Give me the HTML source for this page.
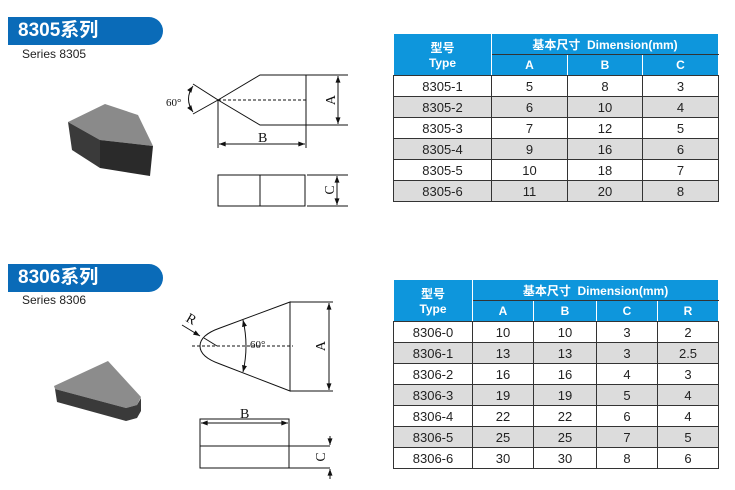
<!DOCTYPE html>
<html><head><meta charset="utf-8"><style>
body{margin:0;width:735px;height:490px;background:#fff;position:relative;overflow:hidden;font-family:"Liberation Sans","Noto Sans CJK SC",sans-serif}
.ban{position:absolute;left:8px;width:155px;height:28px;background:#0a6bb8;border-radius:0 14px 14px 0;color:#fff;font-weight:bold;font-size:19px;line-height:28px;padding-left:10px;box-sizing:border-box}
.ser{position:absolute;left:22px;font-size:12px;color:#222}
table{position:absolute;left:393px;border-collapse:collapse;table-layout:fixed;font-size:13px;text-align:center}
td,th{border:1px solid #333;padding:0;height:20px;color:#222;font-weight:normal}
th{background:#0e96dc;color:#fff;font-weight:bold;font-size:12px;border:1px solid #fff;border-bottom:1px solid #333}
tr.g td{background:#dcdcdc}
</style></head><body>
<div class="ban" style="top:17px">8305系列</div>
<div class="ser" style="top:47px">Series 8305</div>
<div class="ban" style="top:264px">8306系列</div>
<div class="ser" style="top:293px">Series 8306</div>

<table style="top:33px;width:325px">
<colgroup><col style="width:98px"><col style="width:76px"><col style="width:75px"><col style="width:76px"></colgroup>
<tr><th rowspan="2" style="height:40px">型号<br>Type</th><th colspan="3">基本尺寸 &nbsp;Dimension(mm)</th></tr>
<tr><th>A</th><th>B</th><th>C</th></tr>
<tr><td>8305-1</td><td>5</td><td>8</td><td>3</td></tr>
<tr class="g"><td>8305-2</td><td>6</td><td>10</td><td>4</td></tr>
<tr><td>8305-3</td><td>7</td><td>12</td><td>5</td></tr>
<tr class="g"><td>8305-4</td><td>9</td><td>16</td><td>6</td></tr>
<tr><td>8305-5</td><td>10</td><td>18</td><td>7</td></tr>
<tr class="g"><td>8305-6</td><td>11</td><td>20</td><td>8</td></tr>
</table>

<table style="top:279px;width:325px">
<colgroup><col style="width:79px"><col style="width:61px"><col style="width:63px"><col style="width:61px"><col style="width:61px"></colgroup>
<tr><th rowspan="2" style="height:40px">型号<br>Type</th><th colspan="4">基本尺寸 &nbsp;Dimension(mm)</th></tr>
<tr><th>A</th><th>B</th><th>C</th><th>R</th></tr>
<tr><td>8306-0</td><td>10</td><td>10</td><td>3</td><td>2</td></tr>
<tr class="g"><td>8306-1</td><td>13</td><td>13</td><td>3</td><td>2.5</td></tr>
<tr><td>8306-2</td><td>16</td><td>16</td><td>4</td><td>3</td></tr>
<tr class="g"><td>8306-3</td><td>19</td><td>19</td><td>5</td><td>4</td></tr>
<tr><td>8306-4</td><td>22</td><td>22</td><td>6</td><td>4</td></tr>
<tr class="g"><td>8306-5</td><td>25</td><td>25</td><td>7</td><td>5</td></tr>
<tr><td>8306-6</td><td>30</td><td>30</td><td>8</td><td>6</td></tr>
</table>

<svg width="735" height="490" style="position:absolute;left:0;top:0" font-family="Liberation Serif,serif" fill="none" stroke="#111" stroke-width="1">
<defs><marker id="a" viewBox="0 0 8 6" refX="8" refY="3" markerWidth="7" markerHeight="5" orient="auto-start-reverse"><path d="M0,0L8,3L0,6z" fill="#111" stroke="none"/></marker></defs>
<polygon points="68,122 105,104 138,115 153,146 100,140" fill="#8a8a8a" stroke="none"/>
<polygon points="68,122 100,140 100,168 72,150" fill="#3a3a3a" stroke="none"/>
<polygon points="100,140 153,146 150,176 100,168" fill="#2a2a2a" stroke="none"/>
<polyline points="193,84 218,100 193,114"/>
<polyline points="218,100 260,75 306,75 306,125 260,125 218,100"/>
<line x1="218" y1="100" x2="306" y2="100" stroke-dasharray="3,2"/>
<line x1="306" y1="75" x2="348" y2="75"/><line x1="306" y1="125" x2="348" y2="125"/>
<line x1="338" y1="76" x2="338" y2="124" marker-start="url(#a)" marker-end="url(#a)"/>
<path d="M193,86 Q184,99 193,112" marker-start="url(#a)" marker-end="url(#a)"/>
<line x1="218" y1="100" x2="218" y2="148"/><line x1="306" y1="125" x2="306" y2="148"/>
<line x1="219" y1="144" x2="305" y2="144" marker-start="url(#a)" marker-end="url(#a)"/>
<rect x="218" y="175" width="87" height="31"/><line x1="260" y1="175" x2="260" y2="206"/>
<line x1="307" y1="175" x2="348" y2="175"/><line x1="307" y1="206" x2="348" y2="206"/>
<line x1="337" y1="176" x2="337" y2="205" marker-start="url(#a)" marker-end="url(#a)"/>
<g fill="#111" stroke="none" font-size="14">
<text x="166" y="106" font-size="11">60°</text>
<text x="258" y="142">B</text>
<text transform="translate(335,100) rotate(-90)" text-anchor="middle">A</text>
<text transform="translate(334,190) rotate(-90)" text-anchor="middle">C</text>
</g>
<polygon points="54,386 108,361 141,397 137,405 126,408 55,389" fill="#8c8c8c" stroke="none"/>
<polygon points="55,389 126,408 137,405 141,398 141,411 137,418 126,421 57,402" fill="#3a3a3a" stroke="none"/>
<path d="M290,302 L220,328 Q200,335 200,346 Q200,357 220,364 L290,391 Z"/>
<line x1="192" y1="346" x2="293" y2="346" stroke-dasharray="3,2"/>
<line x1="204" y1="338" x2="217" y2="346"/>
<line x1="182" y1="325" x2="200" y2="336" marker-end="url(#a)"/>
<path d="M243,320 Q249,346 243,372" marker-start="url(#a)" marker-end="url(#a)"/>
<line x1="290" y1="302" x2="333" y2="302"/><line x1="290" y1="391" x2="333" y2="391"/>
<line x1="329" y1="303" x2="329" y2="390" marker-start="url(#a)" marker-end="url(#a)"/>
<rect x="200" y="419" width="89" height="49"/><line x1="200" y1="446" x2="330" y2="446"/><line x1="289" y1="468" x2="330" y2="468"/>
<line x1="201" y1="423" x2="288" y2="423" marker-start="url(#a)" marker-end="url(#a)"/>
<line x1="330" y1="436" x2="330" y2="445" marker-end="url(#a)"/>
<line x1="330" y1="479" x2="330" y2="469" marker-end="url(#a)"/>
<g fill="#111" stroke="none" font-size="14">
<text x="186" y="323" transform="rotate(30,190,320)">R</text>
<text x="250" y="348" font-size="11">60°</text>
<text x="240" y="418">B</text>
<text transform="translate(325,346) rotate(-90)" text-anchor="middle">A</text>
<text transform="translate(325,457) rotate(-90)" text-anchor="middle">C</text>
</g>
</svg>
</body></html>
